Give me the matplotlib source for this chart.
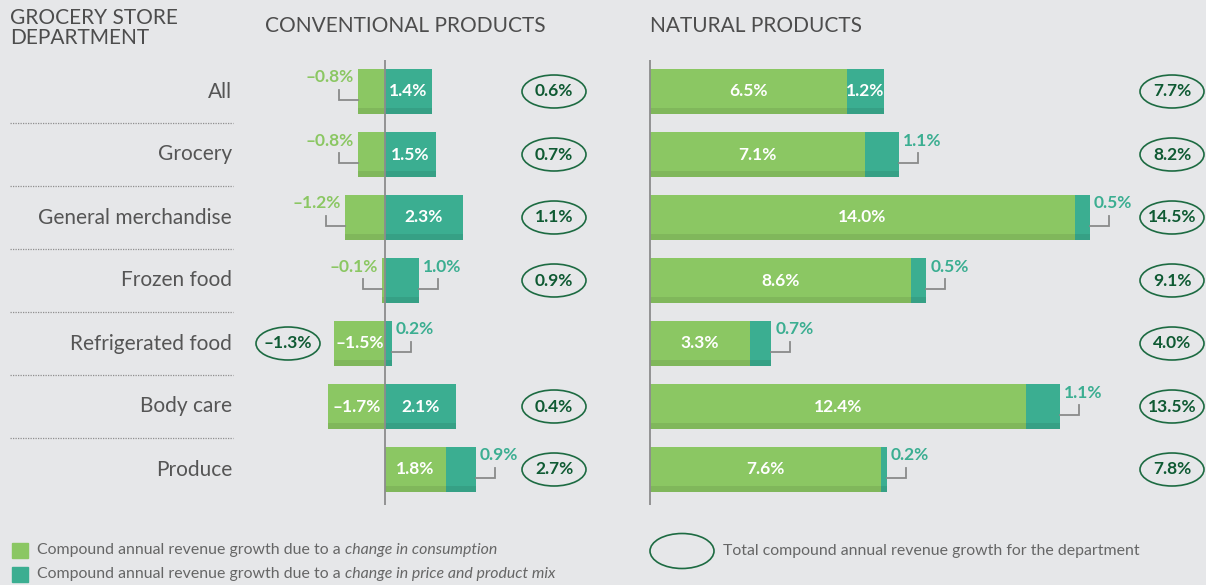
import matplotlib
matplotlib.use("Agg")
import matplotlib.pyplot as plt
from matplotlib.patches import Ellipse, Rectangle

# data
departments = ["All", "Grocery", "General merchandise", "Frozen food",
               "Refrigerated food", "Body care", "Produce"]
conv_consumption = [-0.8, -0.8, -1.2, -0.1, -1.5, -1.7, 1.8]
conv_price = [1.4, 1.5, 2.3, 1.0, 0.2, 2.1, 0.9]
conv_total = [0.6, 0.7, 1.1, 0.9, -1.3, 0.4, 2.7]
nat_consumption = [6.5, 7.1, 14.0, 8.6, 3.3, 12.4, 7.6]
nat_price = [1.2, 1.1, 0.5, 0.5, 0.7, 1.1, 0.2]
nat_total = [7.7, 8.2, 14.5, 9.1, 4.0, 13.5, 7.8]

LIGHT = "#8bc763"
TEAL = "#3bae91"
BG = "#e6e7e9"
DARK = "#0f5a33"
RING = "#1d6b42"
GREY_TXT = "#4d4d4d"
LEADER = "#8a8a8a"

W, H = 1206, 585
ROW0, STEP = 91.5, 63          # pixel centre of first row, row spacing
BAR_H = 45 / STEP
STRIP_H = 6 / STEP

plt.rcParams['font.family'] = ['Lato', 'DejaVu Sans']
fig = plt.figure(figsize=(W / 100, H / 100), dpi=100, facecolor=BG)

# background axes in pixel units for headers, labels, legend
bg = fig.add_axes([0, 0, 1, 1])
bg.set_xlim(0, W)
bg.set_ylim(H, 0)
bg.axis('off')


def fmt(v):
    return f"{v:.1f}%".replace("-", "\u2013")


def make_panel(left, right, zero, scale, top=60, bottom=505):
    ax = fig.add_axes([left / W, 1 - bottom / H, (right - left) / W, (bottom - top) / H])
    ax.set_xlim((left - zero) / scale, (right - zero) / scale)
    ax.set_ylim((bottom - ROW0) / STEP, (top - ROW0) / STEP)
    ax.axis('off')
    ax.axvline(0, color="#8c8c8c", lw=1.3, zorder=5)
    return ax


def seg_label(ax, scale, row, start, end, value, color, inside_min):
    px = 1 / scale
    py = 1 / STEP
    if abs(value) >= inside_min:
        ax.text((start + end) / 2, row, fmt(value), ha='center', va='center',
                color='white', fontsize=12.5, fontweight='bold', zorder=6)
        return
    if value < 0:
        edge, d, ha = min(start, end), -1, 'right'
    else:
        edge, d, ha = max(start, end), 1, 'left'
    xs = [edge, edge + d * 19 * px, edge + d * 19 * px]
    ys = [row + 8 * py, row + 8 * py, row - 2 * py]
    ax.plot(xs, ys, color=LEADER, lw=1.3, zorder=4, clip_on=False,
            solid_joinstyle='miter')
    ax.text(edge + d * 4 * px, row - 14 * py, fmt(value), ha=ha, va='center',
            color=color, fontsize=12.5, fontweight='bold', zorder=6, clip_on=False)


def total_ring(ax, scale, row, x_px, zero, value):
    x = (x_px - zero) / scale
    ax.add_patch(Ellipse((x, row), 64 / scale, 33 / STEP, fill=False,
                         edgecolor=RING, lw=1.2, clip_on=False, zorder=6))
    ax.text(x, row, fmt(value), ha='center', va='center', color=DARK,
            fontsize=12.5, fontweight='bold', zorder=7)


def draw_panel(ax, scale, zero, cons, price, total, inside_min, ring_px, ring_neg_px):
    rows = list(range(len(cons)))
    p_left = [max(c, 0) for c in cons]
    ax.barh(rows, cons, left=0, height=BAR_H, color=LIGHT, zorder=2)
    ax.barh(rows, price, left=p_left, height=BAR_H, color=TEAL, zorder=2)
    lo = [min(c, 0) for c in cons]
    hi = [max(c, 0) + p for c, p in zip(cons, price)]
    ax.barh([r + BAR_H / 2 - STRIP_H / 2 for r in rows],
            [h - l for h, l in zip(hi, lo)], left=lo, height=STRIP_H,
            color='black', alpha=0.08, zorder=3)
    for r in rows:
        seg_label(ax, scale, r, 0, cons[r], cons[r], LIGHT, inside_min)
        seg_label(ax, scale, r, p_left[r], p_left[r] + price[r], price[r], TEAL, inside_min)
        x_px = ring_px if total[r] >= 0 else ring_neg_px
        total_ring(ax, scale, r, x_px, zero, total[r])


conv = make_panel(250, 610, 385, 33.7)
draw_panel(conv, 33.7, 385, conv_consumption, conv_price, conv_total, 1.25, 554, 288)

nat = make_panel(640, 1206, 650, 30.35)
draw_panel(nat, 30.35, 650, nat_consumption, nat_price, nat_total, 1.15, 1172, 1172)

# headers
bg.text(10, 8, "GROCERY STORE\nDEPARTMENT", ha='left', va='top', fontsize=15,
        color=GREY_TXT, linespacing=1.0)
bg.text(265, 26, "CONVENTIONAL PRODUCTS", ha='left', va='center', fontsize=15,
        color=GREY_TXT)
bg.text(650, 26, "NATURAL PRODUCTS", ha='left', va='center', fontsize=15,
        color=GREY_TXT)

# department labels and dotted separators
for i, name in enumerate(departments):
    y = ROW0 + STEP * i
    bg.text(232, y, name, ha='right', va='center', fontsize=15, color="#555555")
    if i < len(departments) - 1:
        bg.plot([10, 233], [y + STEP / 2, y + STEP / 2], color="#8f8f8f",
                lw=0.9, ls=(0, (1, 1)))

# legend
fig.canvas.draw()
renderer = fig.canvas.get_renderer()
legend_rows = [(LIGHT, "change in consumption", 550),
               (TEAL, "change in price and product mix", 574)]
for col, ital, y in legend_rows:
    bg.add_patch(Rectangle((12, y - 7.5), 16, 15, color=col))
    t = bg.text(37, y, "Compound annual revenue growth due to a ", ha='left',
                va='center', fontsize=11.4, color="#666666")
    bb = t.get_window_extent(renderer)
    x_end = bg.transData.inverted().transform((bb.x1, 0))[0]
    bg.text(x_end, y, ital, ha='left', va='center', fontsize=11.4,
            color="#666666", style='italic')

bg.add_patch(Ellipse((682, 551), 64, 35, fill=False, edgecolor=RING, lw=1.2))
bg.text(723, 551, "Total compound annual revenue growth for the department",
        ha='left', va='center', fontsize=11.4, color="#666666")

fig.savefig("out.png", dpi=100, facecolor=BG)
